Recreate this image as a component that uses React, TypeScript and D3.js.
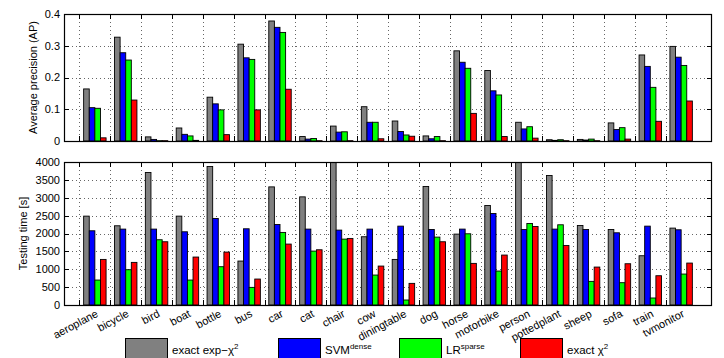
import React, { useEffect, useRef } from "react";
import * as d3 from "d3";

const categories = [
  "aeroplane", "bicycle", "bird", "boat", "bottle", "bus", "car", "cat", "chair", "cow",
  "diningtable", "dog", "horse", "motorbike", "person", "pottedplant", "sheep", "sofa", "train", "tvmonitor",
];

// average precision per class
const apExpChi2 = [0.164, 0.327, 0.013, 0.041, 0.138, 0.305, 0.378, 0.014, 0.047, 0.108, 0.063, 0.016, 0.284, 0.222, 0.059, 0.004, 0.005, 0.057, 0.271, 0.298];
const apSvmDense = [0.105, 0.278, 0.005, 0.021, 0.117, 0.262, 0.358, 0.006, 0.028, 0.059, 0.030, 0.007, 0.248, 0.158, 0.038, 0.002, 0.003, 0.036, 0.235, 0.264];
const apLrSparse = [0.103, 0.255, 0.001, 0.016, 0.098, 0.257, 0.342, 0.008, 0.029, 0.059, 0.019, 0.014, 0.229, 0.145, 0.045, 0.004, 0.006, 0.042, 0.169, 0.238];
const apChi2 = [0.010, 0.129, 0.001, 0.002, 0.020, 0.098, 0.163, 0.001, 0.001, 0.007, 0.015, 0.001, 0.087, 0.014, 0.009, 0.001, 0.001, 0.006, 0.062, 0.126];

// testing time in seconds (chair / person go off the top)
const timeExpChi2 = [2486, 2216, 3706, 2486, 3874, 1229, 3304, 3025, 4400, 1909, 1275, 3315, 1983, 2784, 4400, 3622, 2225, 2113, 1378, 2151];
const timeSvmDense = [2076, 2123, 2123, 2048, 2421, 2132, 2253, 2123, 2095, 2123, 2206, 2113, 2123, 2560, 2113, 2123, 2113, 2020, 2206, 2104];
const timeLrSparse = [698, 987, 1825, 698, 1071, 493, 2030, 1508, 1843, 838, 140, 1899, 1992, 950, 2281, 2244, 661, 624, 196, 866];
const timeChi2 = [1275, 1192, 1769, 1341, 1480, 726, 1704, 1545, 1862, 1089, 605, 1769, 1164, 1397, 2197, 1666, 1061, 1154, 819, 1173];

const seriesKeys = ["expChi2", "svmDense", "lrSparse", "chi2"];
const seriesColors = ["#808080", "#0000ff", "#00ff00", "#ff0000"];
const apTicks = [0, 0.1, 0.2, 0.3, 0.4];
const apTickLabels = ["0", "0.1", "0.2", "0.3", "0.4"];
const timeTicks = [0, 500, 1000, 1500, 2000, 2500, 3000, 3500, 4000];

const W = 724;
const H = 358;
const FONT = "'Liberation Sans', Arial, Helvetica, sans-serif";

export default function App() {
  const svgRef = useRef(null);

  useEffect(() => {
    const svg = d3.select(svgRef.current);
    svg.selectAll("*").remove();

    const left = 64;
    const right = 712;

    // xlim [0.5, 21.5], groups sit at i + 0.5
    const x = d3.scaleLinear().domain([0.5, 21.5]).range([left, right]);
    const unit = x(1) - x(0);
    const inner = d3.scaleBand().domain(seriesKeys).range([-0.3636 * unit, 0.3636 * unit]).padding(0);

    const drawPanel = (id, top, bottom, yMax, yTicks, yTickLabels, series, yLabel, labelX) => {
      const y = d3.scaleLinear().domain([0, yMax]).range([bottom, top]);
      const g = svg.append("g");

      g.append("defs")
        .append("clipPath")
        .attr("id", id)
        .append("rect")
        .attr("x", left)
        .attr("y", top)
        .attr("width", right - left)
        .attr("height", bottom - top);

      // dotted grid
      const grid = g.append("g").attr("stroke", "#666").attr("stroke-dasharray", "1,3").attr("stroke-width", 1);
      yTicks.slice(1, -1).forEach((t) => {
        grid.append("line").attr("x1", left).attr("x2", right).attr("y1", Math.round(y(t)) + 0.5).attr("y2", Math.round(y(t)) + 0.5);
      });
      d3.range(1, 21).forEach((i) => {
        const xx = Math.round(x(i)) + 0.5;
        grid.append("line").attr("x1", xx).attr("x2", xx).attr("y1", top).attr("y2", bottom);
      });

      // bars
      const bars = g.append("g").attr("clip-path", `url(#${id})`);
      series.forEach((vals, s) => {
        bars
          .selectAll(null)
          .data(vals)
          .enter()
          .append("rect")
          .attr("x", (d, i) => x(i + 1.5) + inner(seriesKeys[s]))
          .attr("width", inner.bandwidth())
          .attr("y", (d) => y(d))
          .attr("height", (d) => y(0) - y(d))
          .attr("fill", seriesColors[s])
          .attr("stroke", "#000")
          .attr("stroke-width", 0.9);
      });

      // box + ticks
      g.append("rect")
        .attr("x", left + 0.5)
        .attr("y", top + 0.5)
        .attr("width", right - left - 1)
        .attr("height", bottom - top)
        .attr("fill", "none")
        .attr("stroke", "#000")
        .attr("stroke-width", 1.2);

      const ticks = g.append("g").attr("stroke", "#000").attr("stroke-width", 1);
      d3.range(1, 21).forEach((i) => {
        const xx = Math.round(x(i)) + 0.5;
        ticks.append("line").attr("x1", xx).attr("x2", xx).attr("y1", bottom).attr("y2", bottom - 5);
        ticks.append("line").attr("x1", xx).attr("x2", xx).attr("y1", top).attr("y2", top + 5);
      });
      yTicks.forEach((t, k) => {
        const yy = Math.round(y(t)) + 0.5;
        ticks.append("line").attr("x1", left).attr("x2", left + 5).attr("y1", yy).attr("y2", yy);
        ticks.append("line").attr("x1", right).attr("x2", right - 5).attr("y1", yy).attr("y2", yy);
        g.append("text")
          .attr("x", left - 4)
          .attr("y", y(t))
          .attr("dy", "0.36em")
          .attr("text-anchor", "end")
          .attr("font-family", FONT)
          .attr("font-size", 11)
          .attr("fill", "#000")
          .text(yTickLabels[k]);
      });

      g.append("text")
        .attr("transform", `translate(${labelX},${(top + bottom) / 2}) rotate(-90)`)
        .attr("text-anchor", "middle")
        .attr("font-family", FONT)
        .attr("font-size", 11)
        .attr("fill", "#000")
        .text(yLabel);

      return y;
    };

    drawPanel("clipTop", 14, 141, 0.4, apTicks, apTickLabels,
      [apExpChi2, apSvmDense, apLrSparse, apChi2], "Average precision (AP)", 37);
    drawPanel("clipBottom", 162, 305, 4000, timeTicks, timeTicks.map(String),
      [timeExpChi2, timeSvmDense, timeLrSparse, timeChi2], "Testing time [s]", 27);

    // category labels
    svg
      .append("g")
      .selectAll("text")
      .data(categories)
      .enter()
      .append("text")
      .attr("transform", (d, i) => `translate(${x(i + 1.5) + 4},${316}) rotate(-28)`)
      .attr("text-anchor", "end")
      .attr("font-family", FONT)
      .attr("font-size", 11)
      .attr("fill", "#000")
      .text((d) => d);

    // legend
    const legend = svg.append("g").attr("font-family", FONT).attr("font-size", 11.5).attr("fill", "#000");
    const legendX = [125, 278, 399, 520];
    const legendText = [
      ["exact exp\u2212\u03c7", "2"],
      ["SVM", "dense"],
      ["LR", "sparse"],
      ["exact \u03c7", "2"],
    ];
    legendX.forEach((lx, s) => {
      legend.append("rect")
        .attr("x", lx + 0.5)
        .attr("y", 338.5)
        .attr("width", 42)
        .attr("height", 24)
        .attr("fill", seriesColors[s])
        .attr("stroke", "#000")
        .attr("stroke-width", 1);
      const t = legend.append("text").attr("x", lx + 47).attr("y", 354);
      t.append("tspan").text(legendText[s][0]);
      t.append("tspan").attr("dy", -5).attr("font-size", 8).text(legendText[s][1]);
    });
  }, []);

  return (
    <svg
      ref={svgRef}
      width={W}
      height={H}
      style={{ position: "absolute", left: 0, top: 0, background: "#fff" }}
    />
  );
}
